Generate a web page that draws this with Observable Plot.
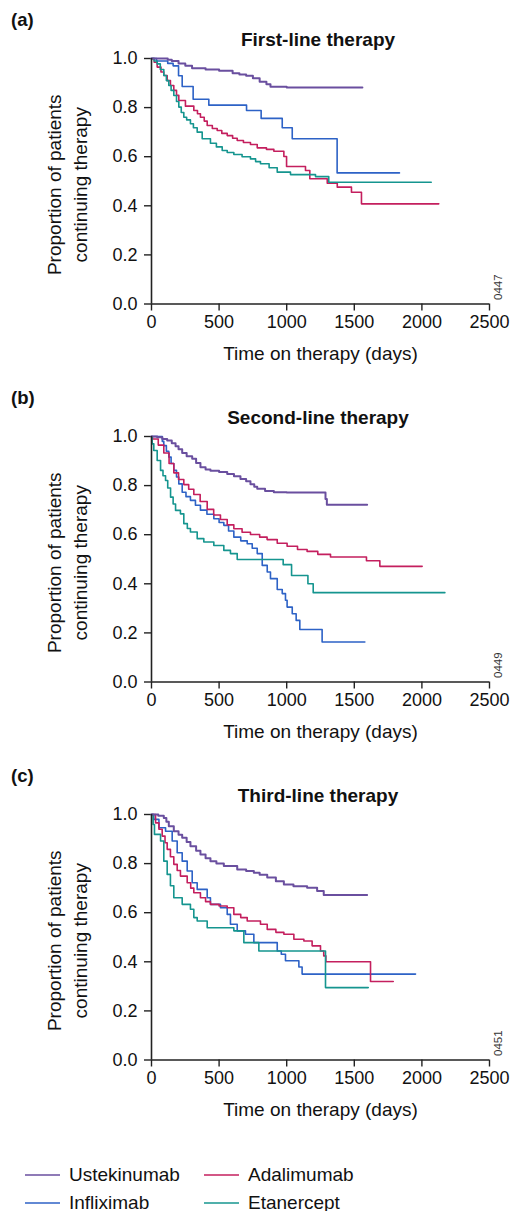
<!DOCTYPE html>
<html>
<head>
<meta charset="utf-8">
<script src="https://cdn.jsdelivr.net/npm/d3@7"></script>
<script src="https://cdn.jsdelivr.net/npm/@observablehq/plot@0.6"></script>
<style>
  body { margin: 0; background: #fff; width: 512px; font-family: "Liberation Sans", Arial, Helvetica, sans-serif; color: #111; }
  .panel { position: relative; width: 512px; height: 378px; }
  .panel .hdr { position: relative; height: 50px; }
  .panel .lab { position: absolute; left: 11px; top: 11px; font-weight: bold; font-size: 18.5px; line-height: 18.5px; }
  .panel .ttl { position: absolute; left: 118px; width: 400px; top: 30px; text-align: center; font-weight: bold; font-size: 19px; line-height: 19px; }
  .panel svg { display: block; }
  .legend { position: relative; width: 512px; height: 77px; }
  .legend .item { position: absolute; height: 24px; display: flex; align-items: center; font-size: 19px; }
  .legend .sw { display: inline-block; width: 35px; height: 2px; margin-right: 9px; }
</style>
</head>
<body>
<div id="chart"></div>
<script>
// ---- Data (days, proportion continuing therapy) ----
const drugs = ["Ustekinumab", "Infliximab", "Adalimumab", "Etanercept"];
const drugColors = ["#6a4f9f", "#2d62c6", "#c41f5e", "#15958f"];
const xTicks = [0, 500, 1000, 1500, 2000, 2500];
const yTicks = [0, 0.2, 0.4, 0.6, 0.8, 1.0];
const panelLetters = ["(a)", "(b)", "(c)"];
const panelTitles = ["First-line therapy", "Second-line therapy", "Third-line therapy"];
const panelCodes = ["0447", "0449", "0451"];
const xTitle = "Time on therapy (days)";
const yTitle1 = "Proportion of patients";
const yTitle2 = "continuing therapy";

// First-line
const firstUstekinumab = [[0,1],[80,1],[120,0.995],[150,0.99],[200,0.98],[250,0.97],[300,0.96],[400,0.955],[500,0.95],[600,0.94],[650,0.935],[700,0.93],[750,0.92],[800,0.905],[850,0.895],[880,0.885],[1000,0.882],[1560,0.882]];
const firstInfliximab = [[0,1],[37,0.99],[120,0.98],[160,0.97],[200,0.93],[227,0.886],[308,0.834],[424,0.81],[703,0.788],[811,0.756],[967,0.718],[1041,0.673],[1373,0.534],[1834,0.534]];
const firstAdalimumab = [[0,1],[20,0.985],[42,0.965],[70,0.945],[91,0.931],[116,0.91],[140,0.89],[165,0.87],[185,0.85],[202,0.829],[251,0.806],[313,0.788],[340,0.775],[362,0.761],[390,0.745],[412,0.727],[450,0.715],[486,0.707],[520,0.695],[560,0.686],[600,0.675],[634,0.666],[680,0.658],[732,0.65],[782,0.636],[850,0.63],[905,0.622],[979,0.601],[999,0.56],[1139,0.544],[1171,0.51],[1300,0.492],[1374,0.476],[1479,0.455],[1553,0.408],[2125,0.408]];
const firstEtanercept = [[0,1],[20,0.99],[42,0.978],[65,0.955],[91,0.931],[110,0.91],[128,0.89],[145,0.87],[165,0.849],[185,0.825],[202,0.802],[220,0.78],[239,0.761],[260,0.75],[288,0.734],[310,0.718],[338,0.70],[375,0.673],[436,0.655],[480,0.64],[523,0.625],[560,0.617],[609,0.609],[670,0.6],[732,0.591],[770,0.58],[806,0.571],[870,0.555],[930,0.537],[1028,0.527],[1213,0.519],[1311,0.496],[2069,0.496]];

// Second-line
const secondUstekinumab = [[0,1],[42,0.997],[80,0.99],[116,0.984],[150,0.972],[178,0.96],[200,0.948],[227,0.933],[260,0.92],[301,0.909],[330,0.892],[362,0.875],[400,0.866],[436,0.861],[500,0.855],[560,0.847],[610,0.838],[658,0.827],[700,0.818],[732,0.805],[760,0.795],[782,0.787],[840,0.778],[905,0.773],[1000,0.772],[1287,0.745],[1297,0.722],[1595,0.722]];
const secondInfliximab = [[0,1],[67,1],[80,0.98],[91,0.963],[110,0.94],[128,0.916],[145,0.89],[165,0.862],[185,0.835],[202,0.807],[227,0.773],[255,0.755],[288,0.74],[325,0.72],[362,0.70],[410,0.683],[461,0.665],[500,0.65],[535,0.638],[570,0.615],[609,0.59],[660,0.575],[708,0.563],[745,0.545],[782,0.523],[819,0.475],[856,0.448],[880,0.421],[930,0.377],[967,0.36],[991,0.333],[1003,0.305],[1041,0.278],[1070,0.251],[1097,0.214],[1262,0.163],[1578,0.163]];
const secondAdalimumab = [[0,1],[7,0.99],[50,0.965],[91,0.933],[130,0.89],[165,0.852],[200,0.825],[239,0.804],[275,0.785],[313,0.764],[360,0.735],[412,0.703],[460,0.68],[510,0.662],[560,0.64],[609,0.624],[670,0.61],[732,0.601],[800,0.59],[855,0.58],[930,0.565],[1003,0.553],[1080,0.54],[1151,0.532],[1230,0.52],[1324,0.509],[1590,0.494],[1689,0.471],[2002,0.471]];
const secondEtanercept = [[0,1],[5,0.97],[17,0.943],[42,0.902],[67,0.862],[85,0.84],[104,0.821],[120,0.79],[141,0.753],[160,0.725],[178,0.699],[214,0.685],[239,0.645],[265,0.625],[288,0.611],[338,0.584],[387,0.57],[461,0.556],[535,0.536],[584,0.523],[634,0.499],[974,0.478],[1036,0.434],[1157,0.40],[1196,0.364],[2170,0.364]];

// Third-line
const thirdUstekinumab = [[0,1],[50,0.995],[91,0.986],[110,0.97],[128,0.952],[165,0.932],[200,0.918],[227,0.905],[260,0.888],[288,0.871],[330,0.852],[362,0.837],[400,0.822],[436,0.81],[480,0.8],[535,0.79],[634,0.776],[700,0.77],[757,0.763],[800,0.755],[856,0.743],[920,0.728],[979,0.715],[1050,0.708],[1151,0.702],[1225,0.688],[1274,0.672],[1595,0.672]];
const thirdInfliximab = [[0,1],[17,0.98],[55,0.946],[104,0.932],[153,0.892],[190,0.844],[227,0.81],[264,0.77],[301,0.722],[338,0.695],[412,0.661],[436,0.634],[510,0.62],[560,0.593],[584,0.553],[634,0.526],[695,0.512],[757,0.478],[930,0.444],[960,0.431],[991,0.404],[1090,0.379],[1114,0.35],[1953,0.35]];
const thirdAdalimumab = [[0,1],[30,0.966],[55,0.94],[79,0.912],[100,0.885],[116,0.858],[140,0.828],[165,0.797],[190,0.772],[214,0.749],[264,0.722],[290,0.7],[313,0.681],[362,0.661],[400,0.645],[436,0.634],[500,0.627],[560,0.62],[609,0.593],[660,0.58],[708,0.566],[806,0.553],[856,0.532],[920,0.52],[979,0.512],[1053,0.492],[1127,0.485],[1188,0.465],[1250,0.444],[1274,0.424],[1290,0.40],[1620,0.32],[1788,0.32]];
const thirdEtanercept = [[0,1],[12,0.959],[22,0.919],[67,0.892],[91,0.81],[116,0.756],[140,0.71],[165,0.661],[227,0.634],[288,0.614],[313,0.58],[338,0.566],[412,0.539],[609,0.526],[683,0.478],[794,0.444],[1287,0.295],[1603,0.295]];

const panelSeries = [
  [firstUstekinumab, firstInfliximab, firstAdalimumab, firstEtanercept],
  [secondUstekinumab, secondInfliximab, secondAdalimumab, secondEtanercept],
  [thirdUstekinumab, thirdInfliximab, thirdAdalimumab, thirdEtanercept]
];

// ---- Rendering ----
const FONT = '"Liberation Sans", Arial, Helvetica, sans-serif';
const root = document.getElementById("chart");

panelSeries.forEach((series, p) => {
  const rows = [];
  series.forEach((arr, k) => arr.forEach(([t, s]) => rows.push({drug: drugs[k], t, s})));

  const panel = document.createElement("div");
  panel.className = "panel";
  const hdr = document.createElement("div");
  hdr.className = "hdr";
  const lab = document.createElement("div");
  lab.className = "lab"; lab.textContent = panelLetters[p];
  const ttl = document.createElement("div");
  ttl.className = "ttl"; ttl.textContent = panelTitles[p];
  hdr.append(lab, ttl);
  panel.append(hdr);

  const svg = Plot.plot({
    width: 512,
    height: 328,
    marginTop: 8,
    marginBottom: 74.5,
    marginLeft: 151,
    marginRight: 23,
    style: {fontFamily: FONT, fontSize: "18px", color: "#111", background: "white", overflow: "visible"},
    x: {domain: [0, 2500]},
    y: {domain: [0, 1]},
    color: {domain: drugs, range: drugColors},
    marks: [
      Plot.axisX({ticks: xTicks, tickFormat: "d", tickSize: 7, tickPadding: 4, label: null, fontSize: 18, stroke: "#222", strokeWidth: 1.4, fill: "#111"}),
      Plot.axisY({ticks: yTicks, tickFormat: ".1f", tickSize: 7, tickPadding: 7, label: null, fontSize: 18, stroke: "#222", strokeWidth: 1.4, fill: "#111"}),
      Plot.line(rows.filter(d => d.drug !== "Ustekinumab"), {x: "t", y: "s", z: "drug", stroke: "drug", curve: "step-after", strokeWidth: 1.6}),
      Plot.line(rows.filter(d => d.drug === "Ustekinumab"), {x: "t", y: "s", z: "drug", stroke: "drug", curve: "step-after", strokeWidth: 2}),
      Plot.ruleY([0], {stroke: "#222", strokeWidth: 1.6}),
      Plot.ruleX([0], {stroke: "#222", strokeWidth: 1.6}),
      Plot.text([yTitle1], {text: d => d, frameAnchor: "left", rotate: -90, textAnchor: "middle", lineAnchor: "bottom", dx: -90.3, dy: 3.5, fontSize: 19, fill: "#111"}),
      Plot.text([yTitle2], {text: d => d, frameAnchor: "left", rotate: -90, textAnchor: "middle", lineAnchor: "bottom", dx: -64.3, dy: 3.5, fontSize: 19, fill: "#111"}),
      Plot.text([xTitle], {text: d => d, frameAnchor: "bottom", textAnchor: "middle", lineAnchor: "bottom", dy: 56, fontSize: 19, fill: "#111"}),
      Plot.text([panelCodes[p]], {text: d => d, frameAnchor: "bottom-right", rotate: -90, textAnchor: "start", lineAnchor: "middle", dx: 9, dy: -4, fontSize: 11.5, fill: "#333"})
    ]
  });
  panel.append(svg);
  root.append(panel);
});

// Legend
const legend = document.createElement("div");
legend.className = "legend";
const legendPos = [
  {drug: "Ustekinumab", left: 25, top: 29},
  {drug: "Adalimumab", left: 204, top: 29},
  {drug: "Infliximab", left: 25, top: 57},
  {drug: "Etanercept", left: 204, top: 57}
];
legendPos.forEach(({drug, left, top}) => {
  const item = document.createElement("div");
  item.className = "item";
  item.style.left = left + "px";
  item.style.top = top + "px";
  const sw = document.createElement("span");
  sw.className = "sw";
  sw.style.background = drugColors[drugs.indexOf(drug)];
  sw.style.opacity = 0.75;
  const tx = document.createElement("span");
  tx.textContent = drug;
  item.append(sw, tx);
  legend.append(item);
});
root.append(legend);
</script>
</body>
</html>
